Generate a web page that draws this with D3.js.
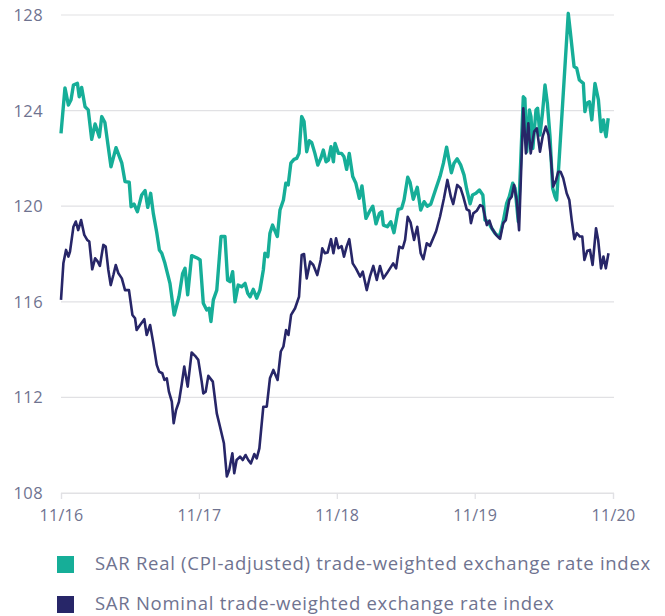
<!DOCTYPE html>
<html>
<head>
<meta charset="utf-8">
<script src="https://cdn.jsdelivr.net/npm/d3@7"></script>
<style>
  html, body { margin: 0; padding: 0; background: #fff; }
  svg { display: block; font-family: "Open Sans", "Noto Sans", sans-serif; }
</style>
</head>
<body>
<svg id="chart" width="665" height="616"></svg>
<script>
// Weekly observations, week number counted from the start of November 2016
const realWeeks = [0,1.5,2.8,3.8,4.7,6.2,6.9,7.8,9.1,10.3,11.6,12.9,14.5,15.4,16.6,18.9,20.8,23.0,24.2,25.8,26.5,27.6,28.9,30.5,31.8,32.8,33.9,34.9,36.2,37.2,38.1,39.3,41.2,42.8,44.6,46.0,46.9,47.9,49.4,51.7,52.6,53.8,55.1,56.0,56.7,57.6,58.9,60.5,62.0,63.0,63.9,64.9,65.8,67.0,68.3,69.6,70.6,71.5,72.7,74.0,75.2,76.5,77.1,78.2,79.0,80.0,81.8,82.8,84.1,85.0,85.9,86.9,88.1,89.1,90.0,91.0,91.9,92.9,93.9,94.8,96.0,97.1,98.2,99.2,100.2,101.1,102.1,103.0,103.6,104.9,106.1,107.0,108.0,109.0,110.3,111.5,112.8,113.8,115.3,116.6,117.9,119.1,120.4,121.3,121.9,123.4,124.7,125.9,127.5,128.8,129.7,131.1,132.0,133.2,134.7,136.0,137.3,138.5,139.8,141.8,143.3,144.6,145.8,146.6,147.6,148.6,149.8,151.1,152.4,153.4,154.7,155.6,156.9,158.2,159.5,160.3,161.6,162.5,164.1,165.7,167.2,168.5,169.5,170.8,171.7,172.9,174.8,175.4,176.1,177.1,177.7,178.4,179.6,180.2,181.1,182.1,183.0,183.9,184.9,185.9,186.8,187.4,191.8,192.5,194.0,195.0,196.0,197.5,198.1,198.8,199.8,200.7,201.9,203.2,204.2,205.1,205.7,206.1,206.9];
const realValues = [123.05,124.95,124.23,124.45,125.07,125.14,124.58,124.97,124.16,124.03,122.8,123.44,122.9,123.75,123.5,121.65,122.45,121.8,121.03,121.0,119.98,120.09,119.77,120.47,120.65,119.95,120.54,119.7,118.9,118.17,118.03,117.61,116.77,115.45,116.21,117.19,117.4,116.29,117.93,117.82,117.75,115.94,115.66,115.73,115.17,116.08,116.49,118.73,118.73,116.91,116.84,117.26,116.0,116.7,116.63,116.77,116.36,116.21,116.52,116.15,116.49,117.33,118.03,117.89,118.87,119.21,118.73,119.84,120.26,120.96,120.89,121.8,121.96,122.0,122.21,123.75,123.54,122.28,122.74,122.66,122.21,121.72,122.0,122.35,121.86,121.93,122.49,121.86,122.63,122.21,122.21,122.07,121.54,122.21,121.24,120.96,120.33,120.85,119.49,119.77,120.0,119.26,119.7,119.77,119.21,119.14,119.35,118.89,119.87,119.91,120.26,121.21,120.99,120.29,120.79,119.84,120.19,120.0,120.08,120.75,121.24,121.8,122.47,121.98,121.4,121.8,121.98,121.73,121.3,120.71,120.1,120.47,120.54,120.68,120.47,119.42,119.35,119.14,118.87,118.7,119.36,120.12,120.4,120.96,120.75,119.36,124.58,124.5,122.28,124.03,123.75,122.42,124.03,124.1,122.98,123.96,125.07,124.31,122.91,120.75,120.4,120.26,128.07,127.37,125.84,125.77,125.28,125.14,123.96,124.31,124.37,123.61,125.14,124.45,123.12,123.61,123.12,122.91,123.68];

const nominalWeeks = [0,0.9,1.9,2.8,3.4,4.7,5.6,6.5,7.6,8.8,9.9,10.7,11.8,12.9,13.9,14.7,16.0,16.9,17.9,18.8,19.8,20.7,21.7,23.0,24.2,25.7,27.0,28.0,28.6,29.9,31.5,32.4,33.7,34.9,36.2,37.1,38.3,39.1,40.0,40.8,41.9,42.6,43.5,44.6,45.6,46.6,47.9,49.4,50.7,51.9,53.2,53.8,54.7,55.7,57.4,58.9,60.1,61.6,62.7,63.6,64.8,65.5,66.4,67.7,68.7,69.8,70.8,71.8,73.1,74.0,75.0,76.5,77.8,79.0,80.3,81.9,83.1,84.1,85.1,86.0,87.0,88.5,90.0,91.0,91.9,92.9,94.2,95.4,96.9,98.2,98.8,99.8,100.8,102.1,103.0,104.0,104.9,106.1,107.0,108.0,109.0,110.3,111.5,113.1,114.1,115.6,116.8,118.1,119.4,120.6,121.9,123.2,124.4,125.6,126.7,127.9,129.2,130.1,131.1,132.2,133.5,134.7,136.0,137.0,138.3,139.5,141.8,143.3,144.8,146.1,147.4,148.3,149.8,151.1,152.1,153.4,154.4,155.0,155.9,157.2,158.5,159.5,161.0,162.0,162.9,164.5,166.0,167.2,168.2,169.5,170.4,171.3,172.3,173.2,174.8,175.8,176.7,177.6,178.9,179.9,181.1,182.1,183.3,184.3,185.2,186.1,187.2,188.0,188.9,189.9,191.2,192.2,193.1,194.1,195.0,196.2,197.1,197.9,199.0,200.0,201.0,202.3,203.1,204.2,205.1,206.0,207.0];
const nominalValues = [116.08,117.61,118.17,117.89,118.1,119.14,119.36,119.0,119.42,118.8,118.59,118.52,117.36,117.82,117.68,117.5,118.38,118.31,117.33,116.7,117.12,117.54,117.19,116.98,116.49,116.49,115.45,115.31,114.82,115.03,115.27,114.61,115.03,114.27,113.36,113.08,113.01,112.73,112.8,112.24,111.82,110.92,111.47,111.82,112.52,113.29,112.45,113.88,113.74,113.57,112.66,112.17,112.24,112.9,112.66,111.33,110.78,110.08,108.69,108.96,109.66,108.83,109.38,109.52,109.38,109.59,109.38,109.24,109.63,109.45,109.87,111.61,111.61,112.8,113.15,112.73,113.92,114.13,114.82,114.61,115.45,115.73,116.21,117.96,118.0,116.98,117.68,117.54,117.12,117.75,118.24,118.03,118.06,118.62,118.03,118.66,118.24,118.33,117.89,118.31,118.62,117.61,117.4,117.05,117.26,116.49,117.05,117.5,116.91,117.5,116.98,117.19,117.4,117.61,117.4,118.31,118.24,118.59,119.56,119.31,118.59,119.14,118.03,117.78,118.45,118.34,118.94,119.56,120.33,121.1,120.4,120.09,120.89,120.75,120.4,119.87,119.81,119.29,119.7,119.81,120.05,119.98,119.21,119.4,119.08,118.8,118.63,119.29,119.42,120.26,120.4,120.89,120.26,119.0,124.1,122.21,123.47,122.21,123.12,123.26,122.28,122.91,123.33,122.98,122.07,120.82,121.1,121.44,121.44,121.17,120.54,120.26,119.42,118.62,118.87,118.73,118.73,117.75,118.14,118.17,117.54,119.08,118.59,117.4,117.89,117.4,118.03];

const yTicks = [108, 112, 116, 120, 124, 128];
const xTickLabels = ["11/16", "11/17", "11/18", "11/19", "11/20"];
const xTickDates = ["2016-11-01", "2017-11-01", "2018-11-01", "2019-11-01", "2020-11-01"];
const seriesNames = [
  "SAR Real (CPI-adjusted) trade-weighted exchange rate index",
  "SAR Nominal trade-weighted exchange rate index"
];
const seriesColors = ["#16ae98", "#272668"];

const parse = d3.utcParse("%Y-%m-%d");
const start = parse(xTickDates[0]);
const weekToDate = w => new Date(start.getTime() + w * 7 * 864e5);

const svg = d3.select("#chart");
const plotLeft = 61, plotRight = 613, plotTop = 15, plotBottom = 493;

const x = d3.scaleUtc()
  .domain([parse(xTickDates[0]), parse(xTickDates[xTickDates.length - 1])])
  .range([plotLeft, plotRight]);
const y = d3.scaleLinear().domain([108, 128]).range([plotBottom, plotTop]);

const textColor = "#6f7390";

// horizontal gridlines
svg.append("g")
  .selectAll("line")
  .data(yTicks)
  .join("line")
  .attr("x1", plotLeft).attr("x2", plotRight + 1)
  .attr("y1", d => y(d)).attr("y2", d => y(d))
  .attr("stroke", "#e1e1e4").attr("stroke-width", 1.2);

// y labels
svg.append("g")
  .selectAll("text")
  .data(yTicks)
  .join("text")
  .attr("x", 43).attr("y", d => y(d))
  .attr("dy", "0.36em")
  .attr("text-anchor", "end")
  .attr("fill", textColor)
  .attr("font-size", 16.5)
  .attr("letter-spacing", 0.4)
  .text(d => d);

// x axis
const xAxis = d3.axisBottom(x)
  .tickValues(xTickDates.map(parse))
  .tickFormat((d, i) => xTickLabels[i])
  .tickSize(6)
  .tickPadding(11);
const gx = svg.append("g").attr("transform", `translate(0,${plotBottom})`).call(xAxis);
gx.select(".domain").attr("stroke", "#e1e1e4").attr("stroke-width", 1.2);
gx.selectAll(".tick line").attr("stroke", "#e1e1e4").attr("stroke-width", 1.2);
gx.selectAll(".tick text")
  .attr("fill", textColor)
  .attr("font-size", 16)
  .attr("letter-spacing", 0.3)
  .attr("font-family", "\"Open Sans\", \"Noto Sans\", sans-serif");

// series lines
const line = d3.line()
  .x(d => x(weekToDate(d[0])))
  .y(d => y(d[1]))
  .curve(d3.curveLinear);

const real = realWeeks.map((w, i) => [w, realValues[i]]);
const nominal = nominalWeeks.map((w, i) => [w, nominalValues[i]]);

svg.append("path")
  .datum(real)
  .attr("fill", "none")
  .attr("stroke", seriesColors[0])
  .attr("stroke-width", 3.4)
  .attr("stroke-linejoin", "round")
  .attr("d", line);

svg.append("path")
  .datum(nominal)
  .attr("fill", "none")
  .attr("stroke", seriesColors[1])
  .attr("stroke-width", 2.6)
  .attr("stroke-linejoin", "round")
  .attr("d", line);

// legend
const legend = svg.append("g")
  .selectAll("g")
  .data(seriesNames)
  .join("g")
  .attr("transform", (d, i) => `translate(57,${564 + i * 40})`);
legend.append("rect")
  .attr("x", 0).attr("y", -8)
  .attr("width", 17).attr("height", 17)
  .attr("fill", (d, i) => seriesColors[i]);
legend.append("text")
  .attr("x", 38).attr("y", 0)
  .attr("dy", "0.33em")
  .attr("fill", textColor)
  .attr("font-size", 18.5)
  .attr("letter-spacing", 0.72)
  .text(d => d);
</script>
</body>
</html>
